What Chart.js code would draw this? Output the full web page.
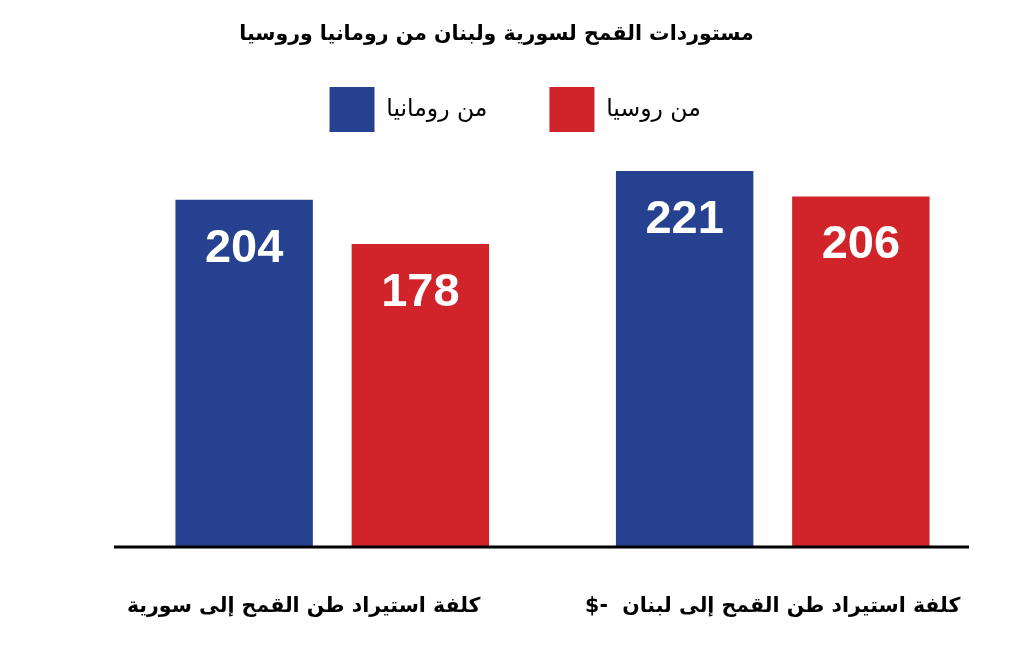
<!DOCTYPE html>
<html lang="ar">
<head>
<meta charset="utf-8">
<script src="https://cdn.jsdelivr.net/npm/chart.js@4"></script>
<style>
  html, body { margin: 0; padding: 0; background: #fff; }
  #wrap { width: 1013px; height: 646px; }
</style>
</head>
<body>
<div id="wrap"><canvas id="chart"></canvas></div>
<script>
const titleText = 'مستوردات القمح لسورية ولبنان من رومانيا وروسيا';
const categories = ['كلفة استيراد طن القمح إلى سورية', 'كلفة استيراد طن القمح إلى لبنان  -$'];
const seriesNames = ['من رومانيا', 'من روسيا'];
const fromRomania = [204, 221];
const fromRussia = [178, 206];

const arabicFont = "'DejaVu Sans', sans-serif";

// white numbers inside the top of each bar
const valueLabels = {
    id: 'valueLabels',
    afterDatasetsDraw(chart) {
        const ctx = chart.ctx;
        ctx.save();
        ctx.fillStyle = '#fff';
        ctx.font = 'bold 47px "Liberation Sans", Arial, sans-serif';
        ctx.textAlign = 'center';
        ctx.textBaseline = 'middle';
        chart.data.datasets.forEach((ds, i) => {
            chart.getDatasetMeta(i).data.forEach((bar, j) => {
                ctx.fillText(ds.data[j], bar.x, bar.y + 49);
            });
        });
        ctx.restore();
    }
};

// black base line under the bars
const baseline = {
    id: 'baseline',
    afterDatasetsDraw(chart) {
        const { ctx, chartArea, scales } = chart;
        const y = scales.y.getPixelForValue(0);
        ctx.save();
        ctx.strokeStyle = '#000';
        ctx.lineWidth = 3;
        ctx.beginPath();
        ctx.moveTo(chartArea.left + 2, y);
        ctx.lineTo(chartArea.right - 24, y);
        ctx.stroke();
        ctx.restore();
    }
};

new Chart(document.getElementById('chart'), {
    type: 'bar',
    data: {
        labels: categories,
        datasets: [{
            label: seriesNames[0],
            data: fromRomania,
            backgroundColor: '#26418f',
            borderWidth: 0
        }, {
            label: seriesNames[1],
            data: fromRussia,
            backgroundColor: '#d1232a',
            borderWidth: 0
        }]
    },
    options: {
        responsive: true,
        maintainAspectRatio: false,
        animation: false,
        layout: {
            padding: { top: 0, right: 20, bottom: 26, left: 0 }
        },
        datasets: {
            bar: {
                barPercentage: 0.78,
                categoryPercentage: 0.8
            }
        },
        scales: {
            x: {
                grid: { display: false, drawTicks: false },
                border: { display: false },
                ticks: {
                    padding: 47,
                    maxRotation: 0,
                    minRotation: 0,
                    autoSkip: false,
                    color: '#000',
                    font: { family: arabicFont, size: 20.5, weight: 'bold' },
                    callback: (value, index) => {
                        // RLM keeps the neutral characters on the Arabic side
                        if (index === 0) {
                            return '\u200F' + ' '.repeat(8) + categories[index];
                        }
                        return categories[index] + '\u200F';
                    }
                },
                afterFit: (scale) => {
                    scale.paddingLeft = 0;
                    scale.paddingRight = 0;
                    scale.height = 73;
                }
            },
            y: {
                min: 0,
                max: 238,
                grid: { display: false, drawTicks: false },
                border: { display: false },
                ticks: { display: false },
                afterFit: (scale) => {
                    scale.width = 112;
                }
            }
        },
        plugins: {
            title: {
                display: true,
                text: titleText,
                color: '#000',
                font: { family: arabicFont, size: 20.5, weight: 'bold' },
                padding: { top: 22, bottom: -21.6 }
            },
            legend: {
                position: 'top',
                fullSize: false,
                labels: {
                    boxWidth: 45,
                    boxHeight: 45,
                    padding: 62,
                    color: '#000',
                    font: { family: arabicFont, size: 23.5 },
                    generateLabels: (chart) => {
                        const items = Chart.defaults.plugins.legend.labels.generateLabels(chart);
                        items[items.length - 1].text += ' '.repeat(10);
                        items.forEach((item) => { item.lineWidth = 0; });
                        return items;
                    }
                }
            },
            tooltip: { enabled: false }
        }
    },
    plugins: [valueLabels, baseline]
});
</script>
</body>
</html>
